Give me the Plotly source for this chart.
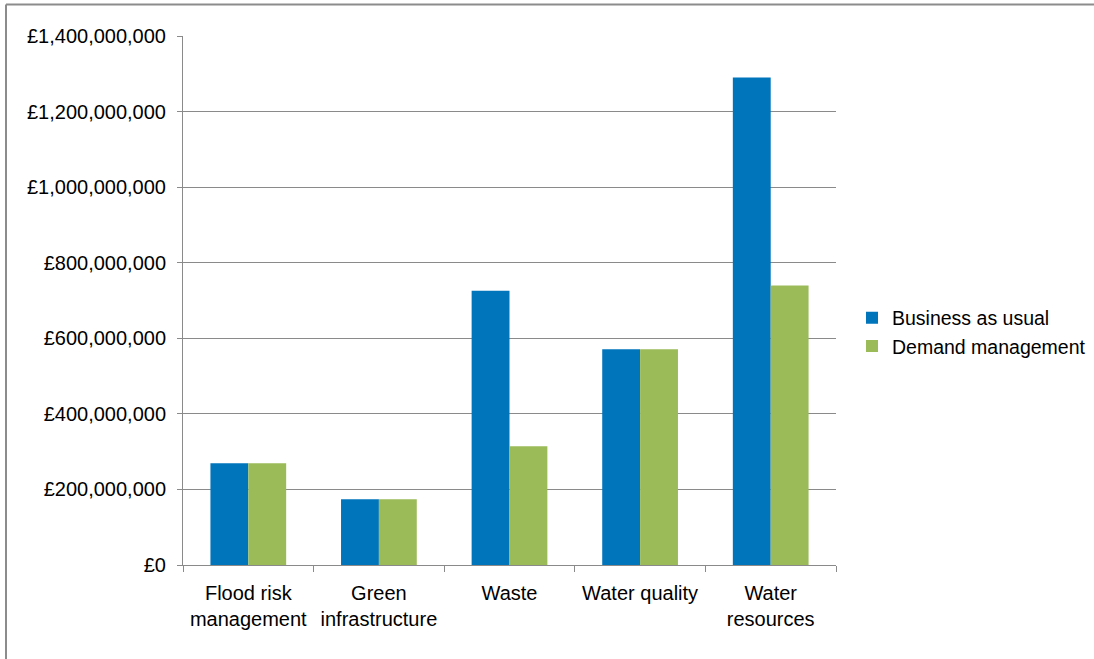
import plotly.graph_objects as go

categories = ["Flood risk<br>management", "Green<br>infrastructure", "Waste", "Water quality", "Water<br>resources"]
business_as_usual = [269e6, 174e6, 726e6, 571e6, 1290e6]
demand_management = [269e6, 174e6, 314e6, 571e6, 740e6]
y_ticks = [0, 200e6, 400e6, 600e6, 800e6, 1000e6, 1200e6, 1400e6]
y_tick_labels = ["£" + format(int(v), ",d") for v in y_ticks]

W, H = 1094, 659
L, R, T, B = 183, 836, 36, 565

fig = go.Figure()
fig.add_trace(go.Bar(x=categories, y=business_as_usual, name="Business as usual",
                     marker=dict(color="#0175BC", line=dict(width=0))))
fig.add_trace(go.Bar(x=categories, y=demand_management, name="Demand management",
                     marker=dict(color="#9BBB59", line=dict(width=0))))

grey = "#8A8A8A"
family = "Liberation Sans, Arial, sans-serif"
tick_font = dict(family=family, size=20, color="#000000")
legend_font = dict(family=family, size=19.5, color="#000000")

fig.update_layout(
    width=W, height=H,
    margin=dict(l=L, r=W - R, t=T, b=H - B, pad=0, autoexpand=False),
    paper_bgcolor="white", plot_bgcolor="white",
    barmode="group", bargap=0.42, bargroupgap=0,
    font=tick_font,
    showlegend=True,
    legend=dict(xref="container", yref="container", x=852 / W, xanchor="left",
                y=1 - 332 / H, yanchor="middle",
                font=legend_font, bgcolor="rgba(0,0,0,0)", tracegroupgap=0, itemwidth=30),
    xaxis=dict(showline=True, linecolor=grey, linewidth=1, ticks="outside", ticklen=6,
               tickcolor=grey, tickson="boundaries", showgrid=False, tickfont=tick_font,
               ticklabelstandoff=10, automargin=False),
    yaxis=dict(range=[0, 1.4e9], tickmode="array", tickvals=y_ticks, ticktext=y_tick_labels,
               showline=True, linecolor=grey, linewidth=1, ticks="outside", ticklen=5,
               tickcolor=grey, showgrid=True, gridcolor=grey, gridwidth=1, zeroline=False,
               tickfont=tick_font, ticklabelstandoff=7, automargin=False),
)

fig.add_shape(type="line", xref="paper", yref="paper",
              x0=(6 - L) / (R - L), x1=(W - L) / (R - L),
              y0=(B - 4.5) / (B - T), y1=(B - 4.5) / (B - T),
              line=dict(color="#8C8C8C", width=2))
fig.add_shape(type="line", xref="paper", yref="paper",
              x0=(6 - L) / (R - L), x1=(6 - L) / (R - L),
              y0=(B - 4.5) / (B - T), y1=(B - H) / (B - T),
              line=dict(color="#8C8C8C", width=2))

fig.write_html("out.html")
